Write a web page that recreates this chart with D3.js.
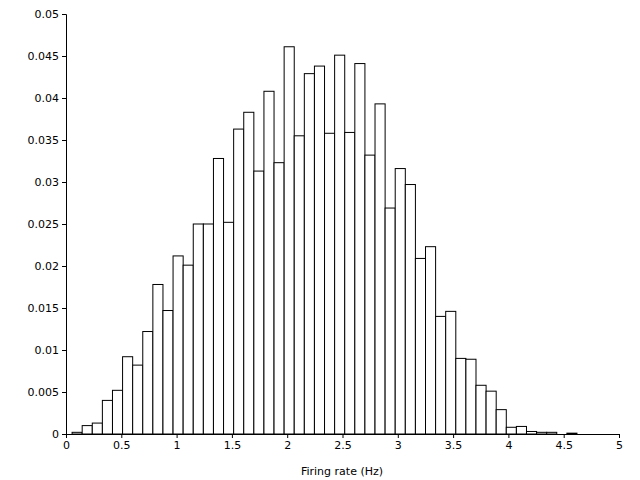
<!DOCTYPE html><html><head><script src="https://d3js.org/d3.v7.min.js"></script>
<style>body{margin:0;background:#fff}text{font-family:"DejaVu Sans";}</style></head><body>
<svg id="c" width="640" height="480"></svg>
<script>
const binStart = 0.055, binWidth = 0.0913;
const values = [0.0002,0.001,0.0013,0.004,0.0052,0.0092,0.0082,0.0122,0.0178,0.0147,0.0212,0.0201,0.025,0.025,0.0328,0.0252,0.0363,0.0383,0.0313,0.0408,0.0323,0.0461,0.0355,0.0429,0.0438,0.0358,0.0451,0.0359,0.0441,0.0332,0.0393,0.0269,0.0316,0.0297,0.0209,0.0223,0.014,0.0146,0.009,0.0089,0.0058,0.0051,0.0029,0.0008,0.0009,0.0003,0.0002,0.0002,0,0.0001];
const xTicks = [0,0.5,1,1.5,2,2.5,3,3.5,4,4.5,5];
const yTicks = [0,0.005,0.01,0.015,0.02,0.025,0.03,0.035,0.04,0.045,0.05];
const svg = d3.select("#c");
const x = d3.scaleLinear().domain([0,5]).range([66,619]);
const y = d3.scaleLinear().domain([0,0.05]).range([434,14]);
svg.append("g").selectAll("rect").data(values).join("rect")
 .attr("x",(d,i)=>x(binStart+i*binWidth)).attr("width",x(binWidth)-x(0))
 .attr("y",d=>y(d)).attr("height",d=>y(0)-y(d))
 .attr("fill","white").attr("stroke","black").attr("stroke-width",1);
const fmt = d=>d===0?"0":String(+d.toFixed(3));
const xa = svg.append("g").attr("transform","translate(0,434)").call(d3.axisBottom(x).tickValues(xTicks).tickFormat(fmt).tickSizeOuter(0).tickSize(4));
const ya = svg.append("g").attr("transform","translate(66,0)").call(d3.axisLeft(y).tickValues(yTicks).tickFormat(fmt).tickSizeOuter(0).tickSize(4));
[xa,ya].forEach(a=>{a.selectAll("text").attr("font-size",11).attr("font-family","DejaVu Sans").attr("fill","black");a.select(".domain").attr("stroke","black");});
svg.append("text").attr("x",342).attr("y",475).attr("text-anchor","middle").attr("font-size",11).text("Firing rate (Hz)");
</script></body></html>
